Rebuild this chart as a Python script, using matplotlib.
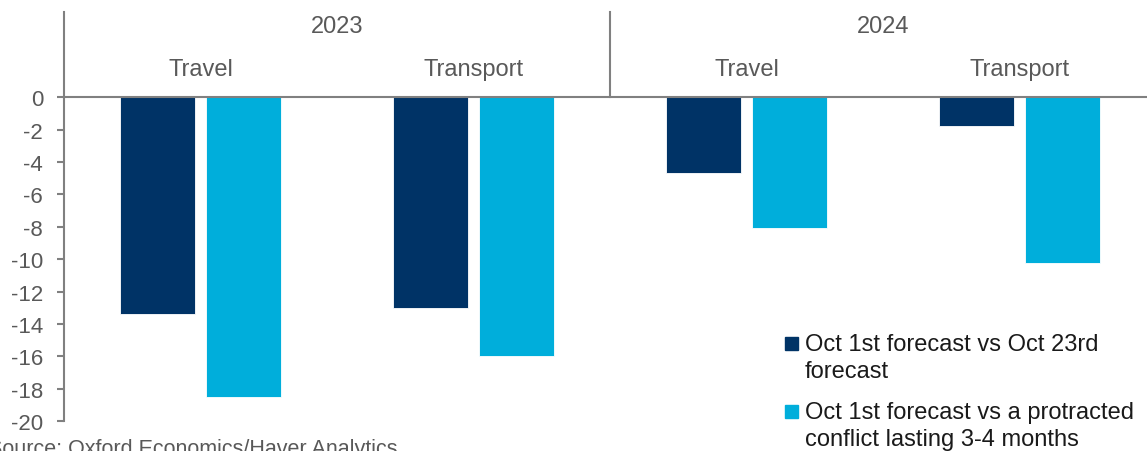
import matplotlib.pyplot as plt
from matplotlib.patches import Rectangle

plt.rcParams['font.family'] = ['Liberation Sans', 'DejaVu Sans']

years = ['2023', '2024']
sectors = ['Travel', 'Transport', 'Travel', 'Transport']
oct23 = [-13.4, -13.0, -4.7, -1.8]
protracted = [-18.5, -16.0, -8.1, -10.2]
series_names = ['Oct 1st forecast vs Oct 23rd\nforecast',
                'Oct 1st forecast vs a protracted\nconflict lasting 3-4 months']

dark = '#003366'
light = '#00AEDB'
grey = '#808080'
txt = '#595959'

fig = plt.figure(figsize=(11.47, 4.52), dpi=100)
ax = fig.add_axes([64 / 1147, 29.7 / 452, 4 * 273 / 1147, 409.6 / 452])

x = [i + 0.5 for i in range(len(sectors))]
w = 0.278
off = 0.1575
ax.bar([v - off for v in x], oct23, width=w, color=dark, edgecolor='white', linewidth=0.6)
ax.bar([v + off for v in x], protracted, width=w, color=light, edgecolor='white', linewidth=0.6)

top = 5.28
ax.set_xlim(0, 4)
ax.set_ylim(-20, top)
ax.axhline(0, color=grey, lw=1.5, zorder=3)
ax.plot([2, 2], [0, top], color=grey, lw=1.5, clip_on=False)

for xi, s in zip(x, sectors):
    ax.text(xi, 1.75, s, ha='center', va='center', fontsize=17, color=txt)
for j, y in enumerate(years):
    ax.text(1 + 2 * j, 4.4, y, ha='center', va='center', fontsize=17, color=txt)

ax.set_yticks(range(-20, 1, 2))
ax.set_yticklabels([str(t) for t in range(-20, 1, 2)])
ax.set_xticks([])
ax.tick_params(axis='y', colors=grey, labelcolor=txt, labelsize=16, length=5, width=1.5, pad=10)
for side in ['top', 'right', 'bottom']:
    ax.spines[side].set_visible(False)
ax.spines['left'].set_color(grey)
ax.spines['left'].set_linewidth(1.5)

# legend drawn by hand so the swatch sits on the first line
W, H = 1147, 452
for (sq_y, txt_y), col, name in zip([(338, 334), (406, 402)], [dark, light], series_names):
    fig.patches.append(Rectangle((785 / W, (H - sq_y - 13) / H), 13 / W, 13 / H,
                                 transform=fig.transFigure, color=col))
    fig.text(805 / W, (H - txt_y) / H, name, ha='left', va='top', fontsize=17,
             color='#1a1a1a', linespacing=1.27)

fig.text(-12 / W, (H - 439) / H, 'Source: Oxford Economics/Haver Analytics',
         ha='left', va='top', fontsize=15.5, color=txt)

fig.savefig('out.png', dpi=100)
